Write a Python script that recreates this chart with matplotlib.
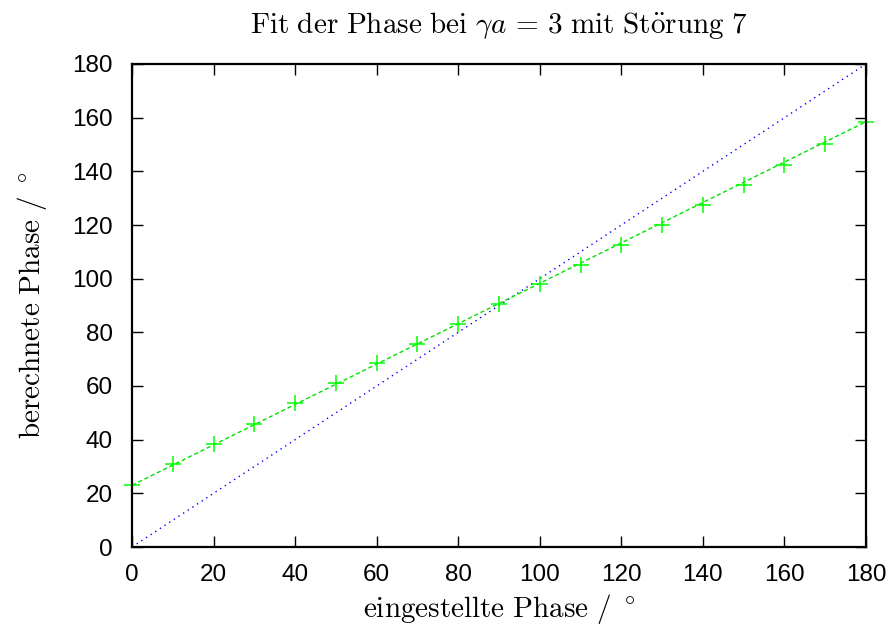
import numpy as np
import matplotlib
matplotlib.use("Agg")
import matplotlib.pyplot as plt

plt.rcParams["mathtext.fontset"] = "cm"

# eingestellte Phase (Grad) und berechnete Phase (Grad)
phase_ein = [0, 10, 20, 30, 40, 50, 60, 70, 80, 90,
             100, 110, 120, 130, 140, 150, 160, 170, 180]
phase_ber = [23.0, 31.0, 38.5, 46.0, 53.5, 61.0, 68.5, 75.5, 83.0, 90.5,
             98.0, 105.0, 112.5, 120.0, 127.5, 135.0, 142.5, 150.0, 158.5]
# Fit-Gerade (Endpunkte) und Winkelhalbierende
fit_x = [0, 180]
fit_y = [23.0, 158.5]
ideal_x = [0, 180]
ideal_y = [0, 180]

xticks = [0, 20, 40, 60, 80, 100, 120, 140, 160, 180]
yticks = [0, 20, 40, 60, 80, 100, 120, 140, 160, 180]

W, H = 893, 626
fig = plt.figure(figsize=(W / 100, H / 100), dpi=100)
ax = fig.add_axes([132 / W, (H - 547) / H, 734 / W, 483 / H])

ax.plot(ideal_x, ideal_y, color="#0000ff", linestyle=(0, (1, 3)), linewidth=1.0)
ax.plot(fit_x, fit_y, color="#00e000", linestyle=(0, (3, 2)), linewidth=1.0)
ax.plot(phase_ein, phase_ber, linestyle="none", marker="+", markersize=12,
        markeredgewidth=1.1, color="#00ff00", clip_on=False)

ax.set_xlim(0, 180)
ax.set_ylim(0, 180)
ax.set_xticks(xticks)
ax.set_yticks(yticks)
ax.tick_params(direction="in", length=8, width=1, top=True, right=True,
               labelsize=17.5)
ax.tick_params(axis="x", pad=12.5)
ax.tick_params(axis="y", pad=14)
for lab in ax.get_xticklabels() + ax.get_yticklabels():
    lab.set_family("Liberation Sans")
for s in ax.spines.values():
    s.set_linewidth(1.6)

# Beschriftungen (Computer Modern wie im LaTeX-Terminal)
fig.text(499 / W, (H - 33) / H,
         r"$\mathrm{Fit\ der\ Phase\ bei}\ \gamma a\,=\,3\ \mathrm{mit\ St\ddot{o}rung\ 7}$",
         fontsize=21, ha="center", va="baseline")
fig.text(499 / W, (H - 617) / H, r"$\mathrm{eingestellte\ Phase}\ /\ ^\circ$",
         fontsize=21, ha="center", va="baseline")
fig.text(40 / W, (H - 305.5) / H, r"$\mathrm{berechnete\ Phase}\ /\ ^\circ$",
         fontsize=21, ha="center", va="baseline", rotation=90,
         rotation_mode="anchor")

fig.savefig("out.png", dpi=100)
